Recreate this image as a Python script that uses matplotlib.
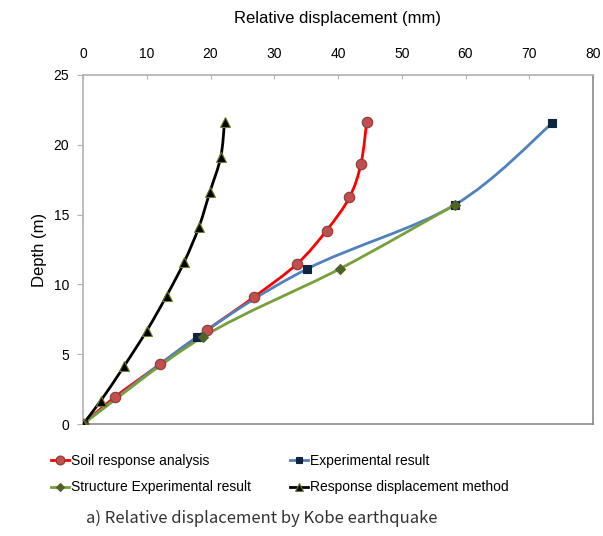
import matplotlib
matplotlib.use('Agg')
import matplotlib.pyplot as plt
from matplotlib.path import Path
from matplotlib.patches import PathPatch
from matplotlib.lines import Line2D
import numpy as np

plt.rcParams['font.family'] = ['Liberation Sans', 'DejaVu Sans']

# data (x = relative displacement mm, y = depth m)
soil_x = [0, 5.0, 12.1, 19.4, 26.8, 33.6, 38.2, 41.8, 43.6, 44.5]
soil_y = [0, 1.93, 4.29, 6.71, 9.09, 11.48, 13.86, 16.24, 18.64, 21.62]

exp_x = [0, 17.9, 35.2, 58.3, 73.6]
exp_y = [0, 6.24, 11.12, 15.69, 21.55]

struct_x = [0, 18.8, 40.3, 58.3]
struct_y = [0, 6.24, 11.12, 15.69]

rdm_x = [0, 2.8, 6.5, 10.0, 13.1, 15.9, 18.2, 19.9, 21.6, 22.2]
rdm_y = [0, 1.67, 4.18, 6.68, 9.17, 11.63, 14.13, 16.62, 19.1, 21.63]

labels = ['Soil response analysis', 'Experimental result',
          'Structure Experimental result', 'Response displacement method']


def smooth_path(xs, ys):
    # excel-like smoothed line: cubic bezier through the points
    p = np.column_stack([xs, ys]).astype(float)
    n = len(p)
    verts = [p[0]]
    codes = [Path.MOVETO]
    for i in range(n - 1):
        p0 = p[i - 1] if i > 0 else p[i]
        p1 = p[i]
        p2 = p[i + 1]
        p3 = p[i + 2] if i + 2 < n else p[i + 1]
        c1 = p1 + (p2 - p0) / 6.0
        c2 = p2 - (p3 - p1) / 6.0
        verts += [c1, c2, p2]
        codes += [Path.CURVE4] * 3
    return Path(verts, codes)


fig = plt.figure(figsize=(6.03, 5.36), dpi=100)
ax = fig.add_axes([83/603, 1 - 424/536, 510/603, 349/536])

series = [
    (soil_x, soil_y, '#ff0000', 'o', '#c0504d', '#8c3836', 7.5),
    (exp_x, exp_y, '#4f81bd', 's', '#0f243e', '#0f243e', 5.5),
    (struct_x, struct_y, '#77a03c', 'D', '#4f6228', '#4f6228', 5),
    (rdm_x, rdm_y, '#000000', '^', '#000000', '#6b7d2a', 6.5),
]
handles = []
for xs, ys, lc, m, fc, ec, ms in series:
    ax.add_patch(PathPatch(smooth_path(xs, ys), facecolor='none',
                           edgecolor=lc, lw=2, zorder=2))
    ax.plot(xs, ys, ls='none', marker=m, ms=ms, mfc=fc, mec=ec, mew=0.8, zorder=3)
    handles.append(Line2D([], [], color=lc, lw=2, marker=m, ms=ms*0.85,
                          mfc=fc, mec=ec, mew=0.8))

ax.set_xlim(0, 80)
ax.set_ylim(0, 25)
ax.set_xticks(np.arange(0, 81, 10))
ax.set_yticks(np.arange(0, 26, 5))
ax.xaxis.tick_top()
ax.xaxis.set_label_position('top')
ax.tick_params(axis='x', direction='in', length=3, color='#b0b0b0', labelsize=10, pad=10)
ax.tick_params(axis='y', direction='out', length=4, color='#b0b0b0', labelsize=10, pad=6)
ax.spines['top'].set_color('#b0b0b0')
ax.spines['left'].set_color('#b0b0b0')
ax.spines['right'].set_color('#8a8a8a')
ax.spines['bottom'].set_color('#8a8a8a')
for s in ax.spines.values():
    s.set_linewidth(1.2)
ax.set_xlabel('Relative displacement (mm)', fontsize=12, labelpad=17)
ax.set_ylabel('Depth (m)', fontsize=12, labelpad=5)

# legend fills column-first, so order as soil, structure | experimental, response
order = [0, 2, 1, 3]
fig.legend([handles[i] for i in order], [labels[i] for i in order], ncol=2,
           loc='upper left', bbox_to_anchor=(51/603, 1 - 454/536),
           frameon=False, fontsize=10, handlelength=1.3, handletextpad=0.15,
           columnspacing=2.8, labelspacing=0.9, borderaxespad=0, borderpad=0)

fig.text(262/603, 1 - 518/536, 'a) Relative displacement by Kobe earthquake',
         ha='center', va='center', fontsize=12, color='#333333',
         family=['Noto Sans CJK KR', 'DejaVu Sans'])

fig.savefig('out.png', dpi=100)
